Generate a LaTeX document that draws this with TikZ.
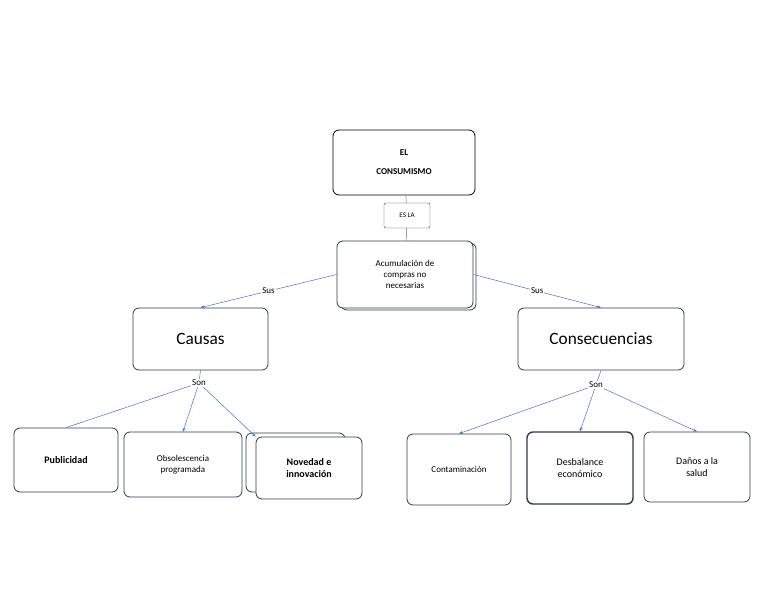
\documentclass[tikz,border=0pt]{standalone}
\usepackage{fontspec}
\setmainfont{Carlito}
\usetikzlibrary{arrows.meta}
\definecolor{bl}{HTML}{4472C4}
\definecolor{bd}{HTML}{2F3B52}
\begin{document}
\begin{tikzpicture}[x=1pt,y=-1pt,
 box/.style={draw=bd,rounded corners=6pt,fill=white,line width=0.8pt},
 ln/.style={draw=bl,line width=0.5pt},
 ar/.style={ln,-{Stealth[length=4pt,width=3pt]}},
 lbl/.style={fill=white,inner sep=1pt,font=\small}]
\useasboundingbox (0,0) rectangle (768,594);
\node[box,draw=black,minimum width=142,minimum height=65,align=center,font=\bfseries\small] (ec) at (404,162.5) {EL\\[8pt]CONSUMISMO};
\node[draw=bd,rounded corners=2pt,minimum width=46,minimum height=25,font=\scriptsize] (es) at (407,215.5) {ES LA};
\draw[ln] (ec) -- (es);
\draw[box] (341,243) rectangle (476,310);
\node[box,minimum width=136,minimum height=67,align=center,font=\small] (ac) at (405,274.5) {Acumulación de\\compras no\\necesarias};
\draw[ln] (es) -- (ac);
\node[box,minimum width=135,minimum height=62,font=\LARGE] (ca) at (200.5,339) {Causas};
\node[box,minimum width=166,minimum height=62,font=\LARGE] (co) at (601,339) {Consecuencias};
\draw[ar] (ac.west) -- node[lbl]{Sus} (ca.north);
\draw[ar] (ac.east) -- node[lbl,pos=0.5]{Sus} (co.north);
\node[box,minimum width=104,minimum height=64,font=\bfseries] (pu) at (66,460) {Publicidad};
\node[box,minimum width=118,minimum height=65,align=center,font=\small] (ob) at (183,464.5) {Obsolescencia\\programada};
\draw[box] (246,433) rectangle (345,492);
\node[box,minimum width=106,minimum height=62,align=center,font=\bfseries] (no) at (309,468) {Novedad e\\innovación};
\node[lbl] (s1) at (199,383) {Son};
\draw[ln] (s1) -- (pu.north);
\draw[ar] (s1) -- (ob.north);
\draw[ar] (s1) -- (no.north west);
\node[box,minimum width=104,minimum height=71,font=\small] (ct) at (459,469.5) {Contaminación};
\node[box,line width=1.4pt,minimum width=106,minimum height=72,align=center] (de) at (580,468) {Desbalance\\económico};
\node[box,minimum width=106,minimum height=70,align=center] (da) at (697,467) {Daños a la\\salud};
\node[lbl] (s2) at (596,385) {Son};
\draw[ln] (ca.south) -- (s1);
\draw[ln] (co.south) -- (s2);
\draw[ar] (s2) -- (ct.north);
\draw[ar] (s2) -- (de.north);
\draw[ar] (s2) -- (da.north);
\end{tikzpicture}
\end{document}
